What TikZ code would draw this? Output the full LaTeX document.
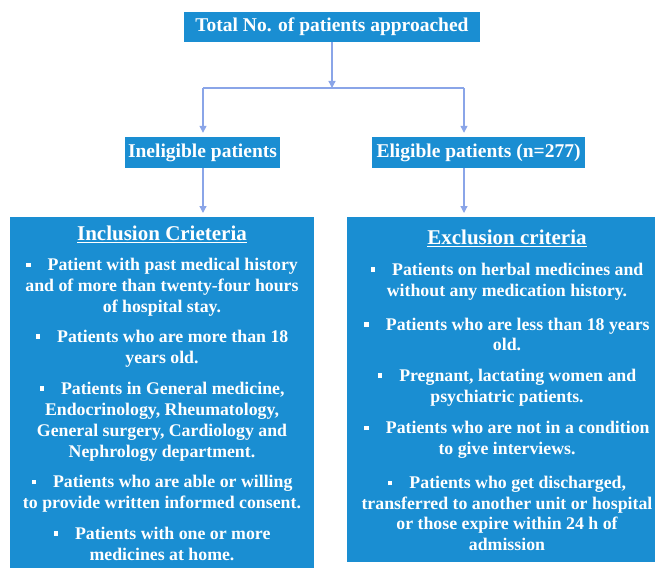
\documentclass[tikz,border=0pt]{standalone}
\usepackage{fontspec}
\setmainfont{Liberation Serif}
\usetikzlibrary{arrows.meta,calc}
\definecolor{boxblue}{RGB}{26,142,210}
\definecolor{arrblue}{RGB}{138,165,232}
\newcommand{\bul}{\raisebox{0.2em}{\rule{4.5pt}{4.5pt}}\hspace{17pt}}
\begin{document}
\begin{tikzpicture}[x=1pt,y=-1pt,
  hdr/.style={fill=boxblue,text=white,inner sep=0pt,font=\fontsize{19.5}{22}\selectfont\bfseries},
  bigbox/.style={fill=boxblue,inner sep=0pt,anchor=north west},
  ttl/.style={text=white,inner sep=0pt,font=\fontsize{21}{24}\selectfont\bfseries},
  bodyL/.style={text=white,inner sep=0pt,align=center,font=\fontsize{17.8}{21}\selectfont\bfseries},
  bodyR/.style={text=white,inner sep=0pt,align=center,font=\fontsize{17.8}{20.5}\selectfont\bfseries},
  conn/.style={draw=arrblue,line width=1.3pt},
  tip/.style={-{Triangle[length=7pt,width=7pt]}}]
\useasboundingbox (0,0) rectangle (655,567);
% boxes
\node[hdr,minimum width=296pt,minimum height=30pt] (total) at (332,27) {Total No. of patients approached};
\node[hdr,minimum width=155pt,minimum height=31pt] (inel) at (202.5,152.5) {Ineligible patients};
\node[hdr,minimum width=213pt,minimum height=31pt] (elig) at (478.5,152.5) {Eligible patients (n=277)};
\node[bigbox,minimum width=304pt,minimum height=360pt] (inc) at (10,217) {};
\node[bigbox,minimum width=330pt,minimum height=345pt] (exc) at (347,217) {};
% connectors
\coordinate (sl) at (203,88);
\coordinate (sr) at (464,88);
\coordinate (sm) at (total.south |- sl);
\draw[conn,tip] (total.south) -- (sm);
\draw[conn] (sl) -- (sr);
\draw[conn,tip,shorten >=4pt] (sl) -- (sl |- inel.north);
\draw[conn,tip,shorten >=4pt] (sr) -- (sr |- elig.north);
\draw[conn,tip,shorten >=4pt] (sl |- inel.south) -- (sl |- inc.north);
\draw[conn,tip,shorten >=4pt] (sr |- elig.south) -- (sr |- exc.north);
% inclusion text
\node[ttl] (inct) at (162,234) {\underline{Inclusion Crieteria}};
\node[bodyL] (i1) at (162,287.5) {\bul Patient with past medical history\\and of more than twenty-four hours\\of hospital stay.};
\node[bodyL] (i2) at (162,348.5) {\bul Patients who are more than 18\\years old.};
\node[bodyL] (i3) at (162,421.5) {\bul Patients in General medicine,\\Endocrinology, Rheumatology,\\General surgery, Cardiology and\\Nephrology department.};
\node[bodyL] (i4) at (162,494) {\bul Patients who are able or willing\\to provide written informed consent.};
\node[bodyL] (i5) at (162,544) {\bul Patients with one or more\\medicines at home.};
% exclusion text
\node[ttl] (exct) at (507,238) {\underline{Exclusion criteria}};
\node[bodyR] (e1) at (507,281.5) {\bul Patients on herbal medicines and\\without any medication history.};
\node[bodyR] (e2) at (507,334.5) {\bul Patients who are less than 18 years\\old.};
\node[bodyR] (e3) at (507,387.5) {\bul Pregnant, lactating women and\\psychiatric patients.};
\node[bodyR] (e4) at (507,440) {\bul Patients who are not in a condition\\to give interviews.};
\node[bodyR] (e5) at (507,513.5) {\bul Patients who get discharged,\\transferred to another unit or hospital\\or those expire within 24 h of\\admission};
\end{tikzpicture}
\end{document}
